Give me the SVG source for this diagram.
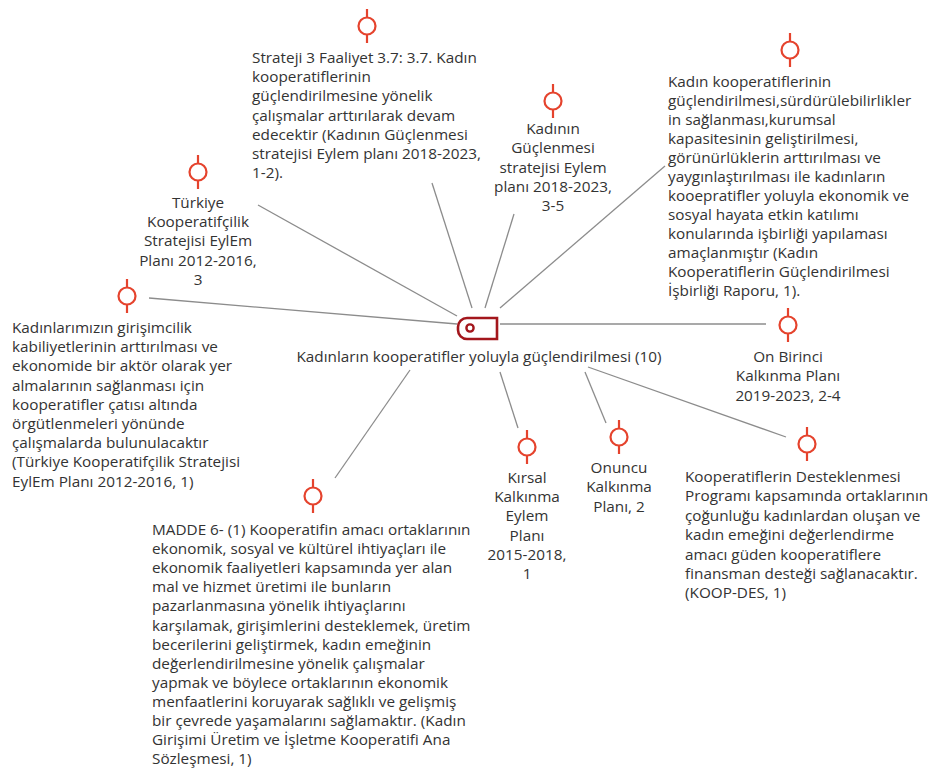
<svg xmlns="http://www.w3.org/2000/svg" width="937" height="769" viewBox="0 0 937 769">
<defs>
<style>
.t{font-family:"Open Sans","Noto Sans","Liberation Sans",sans-serif;font-size:15.3px;fill:#333333}
.c{text-anchor:middle}
.pin line{stroke:#e5432d;stroke-width:2.2}
.pin circle{fill:#ffffff;stroke:#e5432d;stroke-width:2.2}
.edge{stroke:#8c8c8c;stroke-width:1.3;fill:none}
</style>
<g id="pinShape" class="pin">
<line x1="0" y1="-17" x2="0" y2="17"/>
<circle cx="0" cy="0" r="8.5"/>
</g>
</defs>
<rect width="937" height="769" fill="#ffffff"/>
<g id="connectors">
<line class="edge" x1="457" y1="316" x2="258" y2="205"/>
<line class="edge" x1="457" y1="324" x2="149" y2="298"/>
<line class="edge" x1="472" y1="308" x2="432" y2="183"/>
<line class="edge" x1="485" y1="308" x2="514" y2="214"/>
<line class="edge" x1="500" y1="308" x2="665" y2="166"/>
<line class="edge" x1="500" y1="324" x2="766" y2="324"/>
<line class="edge" x1="588" y1="367" x2="786" y2="437"/>
<line class="edge" x1="585" y1="372" x2="606" y2="423"/>
<line class="edge" x1="500" y1="372" x2="518" y2="428"/>
<line class="edge" x1="410" y1="370" x2="335" y2="478"/>
</g>
<g id="center">
<path d="M467,318 H497 V339 H467 A9,9 0 0 1 458,330 V327 A9,9 0 0 1 467,318 Z" fill="#ffffff" stroke="#a3161c" stroke-width="2.6"/>
<circle cx="470" cy="328" r="3.6" fill="none" stroke="#a3161c" stroke-width="2.4"/>
<text class="t c" x="479" y="362">Kadınların kooperatifler yoluyla güçlendirilmesi (10)</text>
</g>
<g id="n-strateji">
<use href="#pinShape" x="367" y="26"/>
<text class="t" x="252" y="63">Strateji 3 Faaliyet 3.7: 3.7. Kadın</text>
<text class="t" x="252" y="82.2">kooperatiflerinin</text>
<text class="t" x="252" y="101.4">güçlendirilmesine yönelik</text>
<text class="t" x="252" y="120.6">çalışmalar arttırılarak devam</text>
<text class="t" x="252" y="139.8">edecektir (Kadının Güçlenmesi</text>
<text class="t" x="252" y="159">stratejisi Eylem planı 2018-2023,</text>
<text class="t" x="252" y="178.2">1-2).</text>
</g>
<g id="n-kadinin">
<use href="#pinShape" x="553" y="101"/>
<text class="t c" x="553" y="134">Kadının</text>
<text class="t c" x="553" y="153.3">Güçlenmesi</text>
<text class="t c" x="553" y="172.6">stratejisi Eylem</text>
<text class="t c" x="553" y="191.9">planı 2018-2023,</text>
<text class="t c" x="553" y="211.2">3-5</text>
</g>
<g id="n-isbirligi">
<use href="#pinShape" x="790" y="50"/>
<text class="t" x="668" y="86.5">Kadın kooperatiflerinin</text>
<text class="t" x="668" y="105.5">güçlendirilmesi,sürdürülebilirlikler</text>
<text class="t" x="668" y="124.5">in sağlanması,kurumsal</text>
<text class="t" x="668" y="143.5">kapasitesinin geliştirilmesi,</text>
<text class="t" x="668" y="162.5">görünürlüklerin arttırılması ve</text>
<text class="t" x="668" y="181.5">yaygınlaştırılması ile kadınların</text>
<text class="t" x="668" y="200.5">kooepratifler yoluyla ekonomik ve</text>
<text class="t" x="668" y="219.5">sosyal hayata etkin katılımı</text>
<text class="t" x="668" y="238.5">konularında işbirliği yapılaması</text>
<text class="t" x="668" y="257.5">amaçlanmıştır (Kadın</text>
<text class="t" x="668" y="276.5">Kooperatiflerin Güçlendirilmesi</text>
<text class="t" x="668" y="295.5">İşbirliği Raporu, 1).</text>
</g>
<g id="n-turkiye">
<use href="#pinShape" x="198" y="172"/>
<text class="t c" x="198" y="208">Türkiye</text>
<text class="t c" x="198" y="227.2">Kooperatifçilik</text>
<text class="t c" x="198" y="246.4">Stratejisi EylEm</text>
<text class="t c" x="198" y="265.6">Planı 2012-2016,</text>
<text class="t c" x="198" y="284.8">3</text>
</g>
<g id="n-kadinlarimizin">
<use href="#pinShape" x="127" y="296"/>
<text class="t" x="12" y="333">Kadınlarımızın girişimcilik</text>
<text class="t" x="12" y="352.2">kabiliyetlerinin arttırılması ve</text>
<text class="t" x="12" y="371.4">ekonomide bir aktör olarak yer</text>
<text class="t" x="12" y="390.6">almalarının sağlanması için</text>
<text class="t" x="12" y="409.8">kooperatifler çatısı altında</text>
<text class="t" x="12" y="429">örgütlenmeleri yönünde</text>
<text class="t" x="12" y="448.2">çalışmalarda bulunulacaktır</text>
<text class="t" x="12" y="467.4">(Türkiye Kooperatifçilik Stratejisi</text>
<text class="t" x="12" y="486.6">EylEm Planı 2012-2016, 1)</text>
</g>
<g id="n-onbirinci">
<use href="#pinShape" x="788" y="325"/>
<text class="t c" x="788" y="362">On Birinci</text>
<text class="t c" x="788" y="381.4">Kalkınma Planı</text>
<text class="t c" x="788" y="400.8">2019-2023, 2-4</text>
</g>
<g id="n-koopdes">
<use href="#pinShape" x="807" y="444"/>
<text class="t" x="685" y="482">Kooperatiflerin Desteklenmesi</text>
<text class="t" x="685" y="501.4">Programı kapsamında ortaklarının</text>
<text class="t" x="685" y="520.8">çoğunluğu kadınlardan oluşan ve</text>
<text class="t" x="685" y="540.2">kadın emeğini değerlendirme</text>
<text class="t" x="685" y="559.6">amacı güden kooperatiflere</text>
<text class="t" x="685" y="579">finansman desteği sağlanacaktır.</text>
<text class="t" x="685" y="598.4">(KOOP-DES, 1)</text>
</g>
<g id="n-kirsal">
<use href="#pinShape" x="527" y="447"/>
<text class="t c" x="527" y="483">Kırsal</text>
<text class="t c" x="527" y="502.2">Kalkınma</text>
<text class="t c" x="527" y="521.4">Eylem</text>
<text class="t c" x="527" y="540.6">Planı</text>
<text class="t c" x="527" y="559.8">2015-2018,</text>
<text class="t c" x="527" y="579">1</text>
</g>
<g id="n-onuncu">
<use href="#pinShape" x="619" y="437"/>
<text class="t c" x="619" y="473">Onuncu</text>
<text class="t c" x="619" y="492.4">Kalkınma</text>
<text class="t c" x="619" y="511.8">Planı, 2</text>
</g>
<g id="n-madde">
<use href="#pinShape" x="313" y="496"/>
<text class="t" x="152" y="535">MADDE 6- (1) Kooperatifin amacı ortaklarının</text>
<text class="t" x="152" y="554.1">ekonomik, sosyal ve kültürel ihtiyaçları ile</text>
<text class="t" x="152" y="573.2">ekonomik faaliyetleri kapsamında yer alan</text>
<text class="t" x="152" y="592.3">mal ve hizmet üretimi ile bunların</text>
<text class="t" x="152" y="611.4">pazarlanmasına yönelik ihtiyaçlarını</text>
<text class="t" x="152" y="630.5">karşılamak, girişimlerini desteklemek, üretim</text>
<text class="t" x="152" y="649.6">becerilerini geliştirmek, kadın emeğinin</text>
<text class="t" x="152" y="668.7">değerlendirilmesine yönelik çalışmalar</text>
<text class="t" x="152" y="687.8">yapmak ve böylece ortaklarının ekonomik</text>
<text class="t" x="152" y="706.9">menfaatlerini koruyarak sağlıklı ve gelişmiş</text>
<text class="t" x="152" y="726">bir çevrede yaşamalarını sağlamaktır. (Kadın</text>
<text class="t" x="152" y="745.1">Girişimi Üretim ve İşletme Kooperatifi Ana</text>
<text class="t" x="152" y="764.2">Sözleşmesi, 1)</text>
</g>
</svg>
